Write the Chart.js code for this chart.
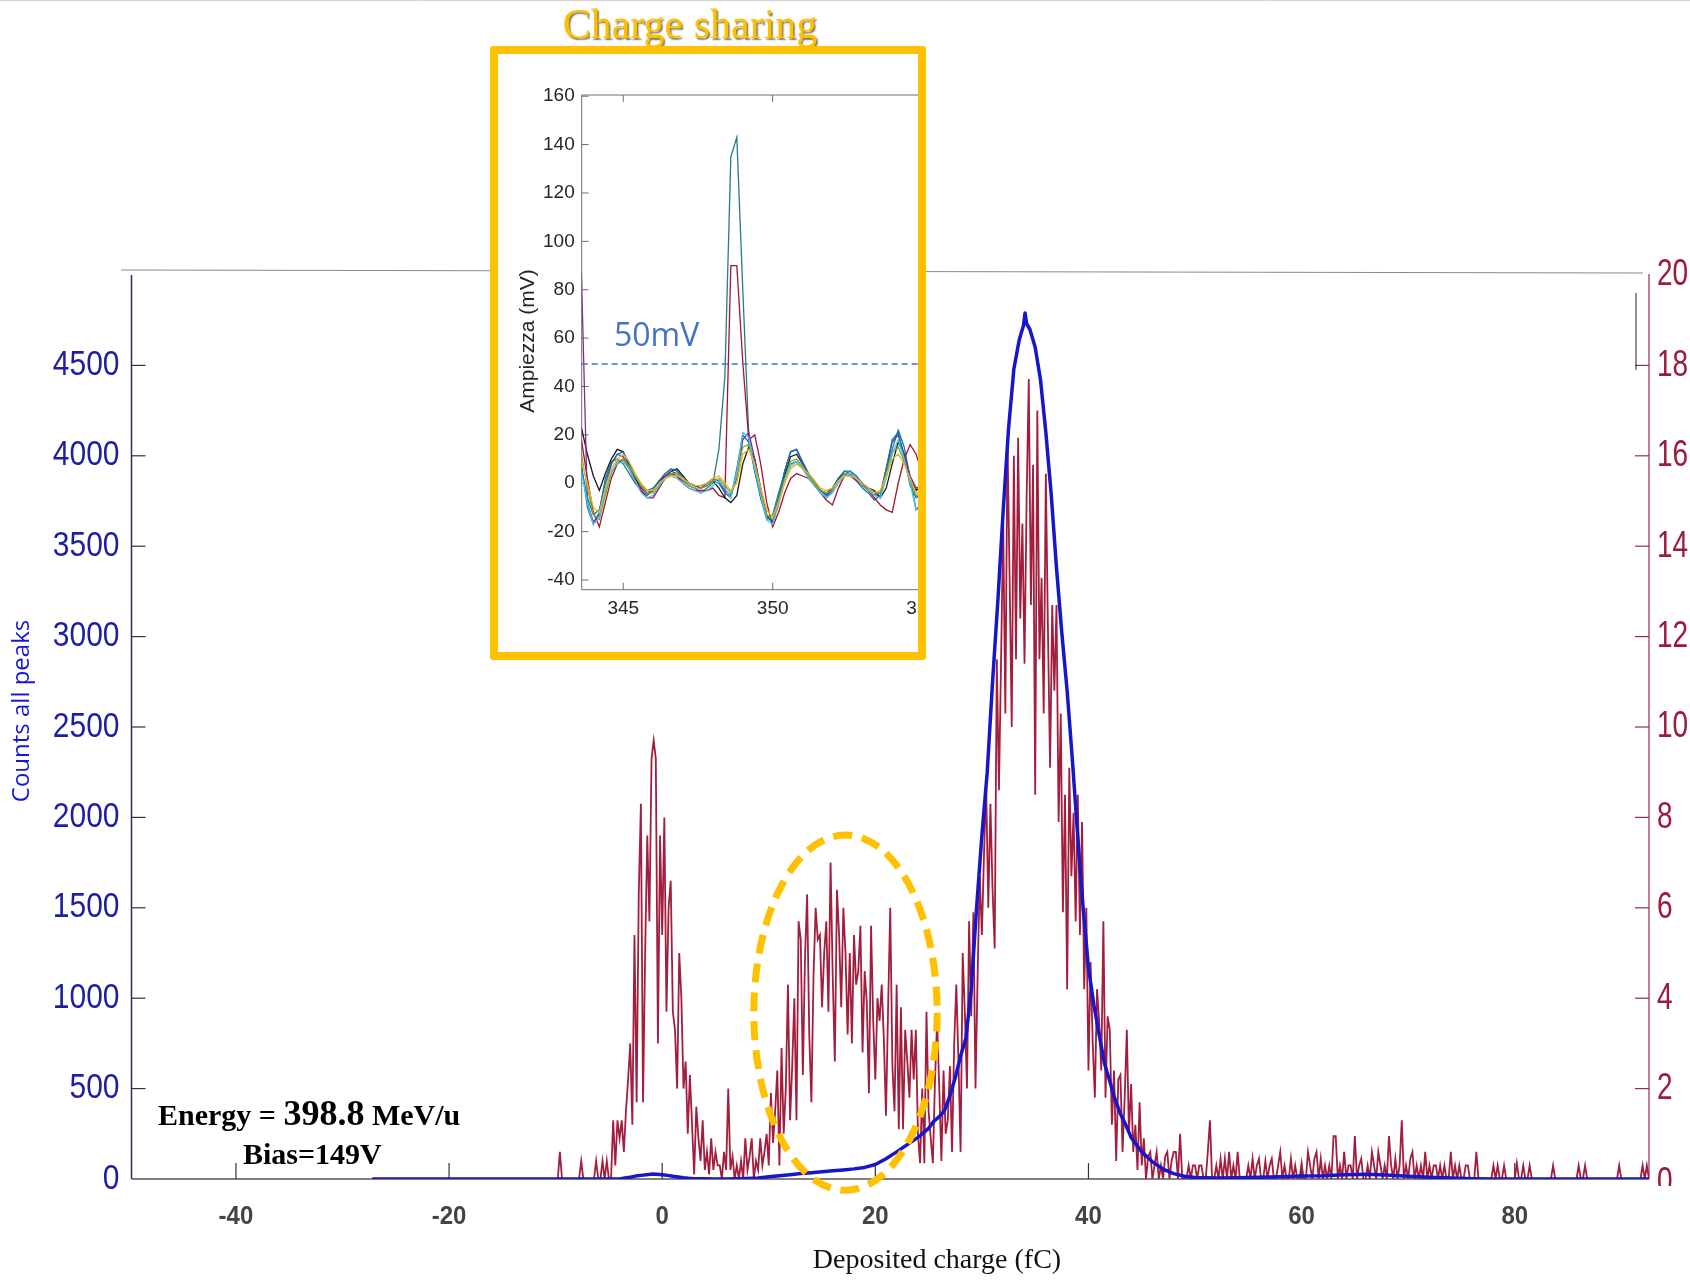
<!DOCTYPE html>
<html>
<head>
<meta charset="utf-8">
<script src="https://cdn.jsdelivr.net/npm/chart.js@4.4.0/dist/chart.umd.min.js"></script>
<style>
  html, body { margin: 0; padding: 0; background: #fff; }
  body { width: 1690px; height: 1283px; position: relative; overflow: hidden; }
  #main { position: absolute; left: 0; top: 0; }
  #insetWrap { position: absolute; left: 498px; top: 54px; width: 420px; height: 598px; overflow: hidden; background: #fff; }
  #inset { position: absolute; left: 0; top: 0; }
  #insetFrame { position: absolute; left: 490px; top: 46px; width: 436px; height: 614px; box-sizing: border-box; border: 8px solid #ffc000; border-radius: 3px; }
</style>
</head>
<body>
<canvas id="main" width="1690" height="1283"></canvas>
<div id="insetWrap"><canvas id="inset" width="470" height="598"></canvas></div>
<div id="insetFrame"></div>
<script>
// ---- main spectrum: all peaks (left axis, blue) ----
const allPeaksCharge = [
  -27.2, -4, -3.5, -3, -2.5, -2, -1.5, -1, -0.5, 0,
  0.5, 1, 1.5, 2, 2.5, 3, 4, 5, 6, 7,
  8, 9, 10, 11, 12, 13, 14, 15, 16, 17,
  18, 19, 20, 21, 22, 23, 24, 25, 25.5, 26,
  26.5, 27, 27.5, 28, 28.5, 29, 29.5, 30, 30.5, 31,
  31.5, 32, 32.5, 33, 33.5, 33.9, 34.05, 34.2, 34.5, 35,
  35.5, 36, 36.5, 37, 37.5, 38, 38.5, 39, 39.5, 40,
  40.5, 41, 41.5, 42, 42.5, 43, 43.5, 44, 45, 46,
  47, 48, 49, 50, 52, 54, 56, 58, 60, 62,
  64, 66, 68, 70, 72, 74, 76, 78, 85, 92.6
];
const allPeaksCounts = [
  0, 0, 5, 10, 16, 20, 24, 27, 26, 24,
  20, 15, 11, 7, 4, 2, 1, 0, 0, 1,
  3, 6, 12, 18, 24, 30, 35, 40, 45, 50,
  56, 64, 80, 112, 150, 190, 230, 280, 320, 345,
  380, 460, 560, 680, 780, 1050, 1500, 1900, 2250, 2750,
  3200, 3700, 4150, 4480, 4640, 4720, 4790, 4730, 4700, 4600,
  4420, 4130, 3790, 3380, 3020, 2700, 2310, 1890, 1500, 1170,
  965, 800, 640, 540, 440, 360, 300, 230, 150, 95,
  55, 30, 15, 8, 6, 7, 10, 13, 16, 18,
  24, 26, 22, 15, 10, 5, 2, 0, 0, 0
];

// ---- charge sharing histogram (right axis, red), bins of 0.2 fC from -10 fC ----
const sharingBinStart = -10;
const sharingBinWidth = 0.2;
const sharingCounts = [
  0, 0, 0.6, 0, 0, 0, 0, 0, 0, 0,            // -10
  0, 0, 0.4, 0, 0, 0, 0, 0, 0, 0.4,          // -8
  0, 0, 0.4, 0, 0.4, 0, 0, 1.3, 0.3, 1.3,    // -6
  0.9, 1.3, 0.6, 1.5, 2.2, 3.0, 1.2, 5.4, 1.7, 6.3, // -4
  8.3, 1.7, 5.0, 7.6, 5.7, 9.3, 9.7, 9.3, 3.0, 7.6, // -2
  5.4, 8.0, 3.7, 6.0, 6.6, 3.7, 3.3, 2.0, 5.0, 4.0, // 0
  2.0, 2.6, 1.0, 2.3, 1.2, 0.1, 1.6, 0.9, 0.4, 1.3, // 2
  0.2, 0.6, 0.1, 0.9, 0.2, 0.6, 0.3, 0.3, 0, 0.6,   // 4
  0.2, 2.0, 0.2, 0.5, 0, 0.3, 0, 0.4, 0, 0.9,       // 6
  0.2, 0.5, 0.9, 0, 0.4, 0.2, 0.9, 0.3, 0.6, 1.0,   // 8
  0.3, 1.9, 0.8, 1.5, 2.4, 0.3, 2.9, 1.0, 2.0, 4.3, // 10
  1.3, 2.5, 4.0, 1.3, 5.7, 5.3, 2.3, 4.9, 6.3, 3.2, // 12
  1.7, 4.5, 6.0, 5.3, 5.4, 3.8, 5.0, 5.7, 3.7, 7.0, // 14
  4.5, 2.6, 6.4, 5.4, 3.8, 6.0, 5.0, 3.2, 5.0, 3.0, // 16
  5.4, 4.3, 4.6, 5.6, 2.8, 4.6, 3.9, 1.9, 5.6, 3.5, // 18
  2.2, 4.0, 3.5, 4.3, 3.1, 1.4, 3.8, 6.0, 2.5, 1.5, // 20
  4.3, 1.1, 3.8, 1.1, 3.3, 2.6, 1.8, 3.3, 2.2, 3.3, // 22
  1.0, 0.35, 2.0, 0.35, 3.7, 1.5, 0.9, 0.35, 2.2, 3.5, // 24
  2.0, 0.4, 2.4, 1.0, 1.3, 2.5, 0.6, 3.0, 4.3, 2.6, // 26
  0.6, 5.0, 3.7, 2.0, 5.7, 3.6, 5.9, 2.0, 4.5, 6.7, // 28
  5.4, 7.2, 8.7, 6.0, 8.3, 6.4, 5.1, 11.5, 8.6, 11.5, // 30
  14.5, 10.3, 16.4, 13.3, 10.0, 16.0, 11.5, 16.4, 12.4, 14.5, // 32
  11.4, 15.1, 17.7, 12.7, 15.8, 8.5, 17.0, 11.5, 13.3, 10.3,  // 34
  15.6, 12.1, 9.1, 12.7, 10.8, 12.7, 7.9, 10.3, 5.9, 8.5,     // 36
  4.2, 9.1, 6.7, 8.1, 5.7, 8.5, 5.4, 7.9, 4.2, 6.0,           // 38
  2.4, 4.8, 3.0, 1.8, 4.2, 3.5, 2.4, 5.7, 1.8, 3.6,           // 40
  3.3, 1.2, 2.4, 0.4, 2.2, 2.3, 0.6, 1.8, 3.3, 1.0,           // 42
  2.1, 0.6, 1.2, 0.2, 1.7, 0.3, 0.9, 0, 0.5, 0.6,             // 44
  0, 0.3, 0.6, 0, 0.3, 0, 0.5, 0.6, 0, 0.4,                   // 46
  0.6, 0.6, 0, 1.0, 0, 0, 0, 0.3, 0, 0.3,                     // 48
  0.3, 0, 0.3, 0.3, 0, 0, 0.6, 1.3, 0, 0,                     // 50
  0.3, 0, 0.45, 0, 0.45, 0, 0.6, 0, 0.3, 0,                   // 52
  0.6, 0, 0, 0, 0, 0.3, 0, 0.45, 0, 0.3,                      // 54
  0.45, 0, 0, 0.4, 0, 0.3, 0.45, 0, 0, 0.3,                   // 56
  0.6, 0, 0.3, 0, 0, 0.45, 0, 0.3, 0, 0,                      // 58
  0.35, 0, 0, 0.6, 0.3, 0, 0.45, 0.6, 0, 0.45,                // 60
  0, 0.3, 0, 0.3, 0, 0.95, 0.95, 0, 0.3, 0,                   // 62
  0.6, 0, 0.3, 0.3, 0, 0.95, 0, 0.3, 0.45, 0,                 // 64
  0, 0.3, 0, 0.6, 0.3, 0, 0.6, 0.3, 0, 0.3,                   // 66
  0, 0.95, 0.3, 0, 0.45, 0, 0.3, 1.3, 0, 0.3,                 // 68
  0, 0.45, 0.6, 0, 0.3, 0, 0.3, 0, 0.6, 0,                    // 70
  0.3, 0, 0.3, 0.3, 0, 0.3, 0, 0.3, 0, 0,                     // 72
  0.6, 0, 0.3, 0, 0.3, 0, 0, 0.3, 0.3, 0,                     // 74
  0, 0, 0.6, 0, 0, 0, 0, 0, 0, 0,                             // 76
  0.3, 0, 0.3, 0, 0, 0.3, 0, 0, 0, 0,                         // 78
  0, 0.35, 0, 0, 0.3, 0, 0, 0.3, 0, 0,                        // 80
  0, 0, 0, 0, 0, 0, 0, 0, 0.3, 0,                             // 82
  0, 0, 0, 0, 0, 0, 0, 0, 0, 0,                               // 84
  0.3, 0, 0, 0.3, 0, 0, 0, 0, 0, 0,                           // 86
  0, 0, 0, 0, 0, 0, 0, 0, 0, 0.3,                             // 88
  0, 0, 0, 0, 0, 0, 0, 0, 0, 0,                               // 90
  0.3, 0, 0.3, 0                                              // 92
];

// ---- inset: waveforms (mV) vs time ----
const insetTime = [
  343.6, 343.8, 344.0, 344.2, 344.4, 344.6, 344.8, 345.0, 345.2, 345.4,
  345.6, 345.8, 346.0, 346.2, 346.4, 346.6, 346.8, 347.0, 347.2, 347.4,
  347.6, 347.8, 348.0, 348.2, 348.4, 348.6, 348.8, 349.0, 349.2, 349.4,
  349.6, 349.8, 350.0, 350.2, 350.4, 350.6, 350.8, 351.0, 351.2, 351.4,
  351.6, 351.8, 352.0, 352.2, 352.4, 352.6, 352.8, 353.0, 353.2, 353.4,
  353.6, 353.8, 354.0, 354.2, 354.4, 354.6, 354.8, 355.0, 355.2
];
const waveBlack = [
  23, 12, 3, -3, 4, 10, 14, 13, 7, 2,
  -2, -4, -3, 1, 3, 5, 6, 3, 0, -1,
  -2, -1, 1, -2, -6, -8, -5, 8, 15, 10,
  -2, -13, -16, -8, 3, 11, 12, 8, 4, 0,
  -3, -4, -2, 2, 4, 4, 2, -1, -2, -3,
  -6, -2, 8, 17, 12, 2, -3, -1, 0
];
const waveTeal = [
  8, -10, -17, -12, 2, 9, 10, 8, 4, 0,
  -3, -5, -3, 1, 3, 4, 3, 1, -1, -2,
  -4, -2, 0, 14, 44, 135, 143, 80, 20, 5,
  -6, -15, -13, -4, 4, 8, 9, 6, 3, 0,
  -4, -6, -3, 2, 5, 4, 1, -2, -4, -7,
  -5, 5, 14, 22, 15, 2, -11, -8, -4
];
const waveRed = [
  18, 2, -12, -18, -8, 2, 8, 10, 6, 1,
  -3, -6, -6, -2, 2, 4, 3, 0, -2, -3,
  -3, -3, -2, -5, -6, 90, 90, 50, 18, 20,
  8, -8, -18, -12, -4, 2, 4, 3, 2, -1,
  -4, -7, -9, -2, 3, 4, 2, 0, -3, -6,
  -9, -11, -12, 0, 10, 16, 12, 4, 0
];
const wavePurple = [
  87, -8, -16, -13, -3, 8, 12, 11, 6, 1,
  -2, -4, -3, 0, 3, 5, 4, 2, 0, -1,
  -2, 0, 2, 1, -3, -5, 2, 18, 21, 10,
  -3, -14, -15, -6, 5, 13, 14, 8, 4, 1,
  -3, -5, -3, 2, 4, 3, 1, -1, -3, -5,
  -4, 6, 17, 20, 12, 3, -2, -1, 0
];
const waveYellow = [
  10, 0, -10, -12, -2, 6, 10, 12, 9, 4,
  0, -3, -3, 0, 2, 3, 3, 2, 0, -1,
  -1, 0, 2, 3, 0, -3, 0, 12, 14, 8,
  -2, -11, -14, -8, 0, 6, 8, 6, 4, 1,
  -2, -3, -2, 1, 3, 3, 2, 0, -2, -4,
  -3, 3, 10, 12, 8, 2, -4, -3, -1
];
const waveCyan = [
  5, -8, -17, -14, -3, 5, 8, 9, 6, 1,
  -4, -6, -5, -1, 2, 3, 2, 0, -2, -3,
  -4, -3, -1, 1, -2, -6, 5, 21, 19, 6,
  -5, -15, -17, -9, 1, 7, 9, 6, 2, -1,
  -4, -6, -4, 0, 3, 4, 2, -1, -3, -5,
  -6, 2, 12, 18, 10, 0, -11, -10, -5
];
const waveGreen = [
  12, -2, -13, -15, -5, 4, 9, 10, 7, 3,
  -1, -4, -4, -1, 2, 4, 4, 2, -1, -2,
  -2, -1, 1, 2, -1, -4, 3, 15, 16, 7,
  -4, -13, -15, -7, 2, 9, 10, 7, 3, 0,
  -3, -4, -3, 1, 4, 4, 2, 0, -2, -4,
  -4, 4, 13, 15, 9, 1, -5, -4, -2
];
const waveBlue = [
  6, -6, -13, -11, 0, 8, 12, 13, 8, 3,
  -1, -3, -2, 1, 4, 6, 5, 2, 0, -1,
  -1, 0, 1, 0, -4, -6, 6, 20, 17, 5,
  -6, -14, -16, -6, 5, 13, 14, 9, 4, 0,
  -3, -5, -2, 2, 5, 5, 3, 0, -2, -4,
  -6, 6, 18, 21, 11, -1, -6, -4, -2
];
const thresholdMv = 49.3;

const SANS = '"Liberation Sans", Arial, sans-serif';
const SERIF = '"Liberation Serif", "Times New Roman", serif';

const line = (ctx, x1, y1, x2, y2) => {
  ctx.beginPath();
  ctx.moveTo(x1, y1);
  ctx.lineTo(x2, y2);
  ctx.stroke();
};

// text squeezed/stretched like the (resized) original figure
const stretchedText = (ctx, text, x, y, sy, align) => {
  ctx.save();
  ctx.translate(x, y);
  ctx.scale(1, sy);
  ctx.textAlign = align;
  ctx.textBaseline = 'middle';
  ctx.fillText(text, 0, 0);
  ctx.restore();
};

const mainDecor = {
  id: 'mainDecor',
  beforeDatasetsDraw(chart) {
    const { ctx, chartArea: a, scales: { x, y, y2 } } = chart;
    ctx.save();
    ctx.strokeStyle = '#d4d4d4';
    ctx.lineWidth = 1;
    line(ctx, 0, 0.5, 1690, 0.5);

    ctx.strokeStyle = '#8a8a8a';
    ctx.lineWidth = 1.2;
    line(ctx, 121, 270, a.right - 6, 273);

    ctx.strokeStyle = '#808080';
    ctx.lineWidth = 2;
    line(ctx, a.left, a.bottom, a.right, a.bottom);

    ctx.strokeStyle = '#2c2c5e';
    ctx.lineWidth = 1.5;
    line(ctx, a.left, a.top, a.left, a.bottom);

    ctx.strokeStyle = '#9a2a4a';
    ctx.lineWidth = 1.2;
    line(ctx, a.right, a.top - 1, a.right, a.bottom);

    ctx.strokeStyle = '#333';
    ctx.lineWidth = 1.2;
    x.ticks.forEach(t => {
      const px = x.getPixelForValue(t.value);
      line(ctx, px, a.bottom, px, a.bottom - 16);
    });
    y.ticks.forEach(t => {
      if (t.value <= 0 || t.value > 4500) return;
      const py = y.getPixelForValue(t.value);
      line(ctx, a.left, py, a.left + 14, py);
    });
    ctx.strokeStyle = '#9a2a4a';
    y2.ticks.forEach(t => {
      if (t.value <= 0 || t.value >= 20) return;
      const py = y2.getPixelForValue(t.value);
      line(ctx, a.right, py, a.right - 14, py);
    });
    ctx.strokeStyle = '#222';
    ctx.lineWidth = 1;
    line(ctx, a.right - 13, y2.getPixelForValue(19.6), a.right - 13, y2.getPixelForValue(17.9));
    ctx.restore();
  },
  afterDraw(chart) {
    const { ctx, chartArea: a, scales: { x, y, y2 } } = chart;
    ctx.save();

    // tick labels
    ctx.fillStyle = '#1e1ea2';
    ctx.font = '30px ' + SANS;
    y.ticks.forEach(t => {
      if (t.value > 4500) return;
      stretchedText(ctx, String(t.value), a.left - 12, y.getPixelForValue(t.value), 1.16, 'right');
    });
    ctx.fillStyle = '#9a1c3c';
    ctx.font = '28px ' + SANS;
    y2.ticks.forEach(t => {
      const py = y2.getPixelForValue(t.value);
      if (t.value === 0) {
        ctx.save();
        ctx.beginPath();
        ctx.rect(a.right, py - 30, 60, 37);
        ctx.clip();
        stretchedText(ctx, '0', a.right + 8, py + 4, 1.35, 'left');
        ctx.restore();
      } else {
        stretchedText(ctx, String(t.value), a.right + 8, py, 1.35, 'left');
      }
    });
    ctx.fillStyle = '#444';
    ctx.font = 'bold 24px ' + SANS;
    x.ticks.forEach(t => {
      stretchedText(ctx, String(t.value), x.getPixelForValue(t.value), 1217, 1.05, 'center');
    });

    // axis titles
    ctx.save();
    ctx.translate(22, 711);
    ctx.rotate(-Math.PI / 2);
    ctx.fillStyle = '#1515e0';
    ctx.font = '24px "Open Sans", ' + SANS;
    ctx.textAlign = 'center';
    ctx.textBaseline = 'middle';
    ctx.fillText('Counts all peaks', 0, 0);
    ctx.restore();

    ctx.fillStyle = '#111';
    ctx.font = '28px ' + SERIF;
    ctx.textAlign = 'center';
    ctx.textBaseline = 'middle';
    ctx.fillText('Deposited charge (fC)', 937, 1261);

    // run info
    ctx.textAlign = 'left';
    ctx.textBaseline = 'alphabetic';
    ctx.fillStyle = '#000';
    let cx = 158;
    ctx.font = 'bold 30px ' + SERIF;
    ctx.fillText('Energy = ', cx, 1125);
    cx += ctx.measureText('Energy = ').width;
    ctx.font = 'bold 36px ' + SERIF;
    ctx.fillText('398.8', cx, 1125);
    cx += ctx.measureText('398.8').width;
    ctx.font = 'bold 30px ' + SERIF;
    ctx.fillText(' MeV/u', cx, 1125);
    ctx.fillText('Bias=149V', 243, 1164);

    // inset title
    ctx.save();
    ctx.font = '42px ' + SERIF;
    ctx.textAlign = 'center';
    ctx.fillStyle = '#ffc000';
    ctx.shadowColor = 'rgba(70, 50, 0, 0.65)';
    ctx.shadowOffsetX = 1.5;
    ctx.shadowOffsetY = 1.5;
    ctx.shadowBlur = 1.5;
    ctx.fillText('Charge sharing', 690, 38);
    ctx.restore();

    // dashed ellipse around the charge sharing bump
    const ex = x.getPixelForValue(17.2);
    const ey = y2.getPixelForValue(3.68);
    const rx = x.getPixelForValue(17.2 + 8.6) - ex;
    const ry = ey - y2.getPixelForValue(3.68 + 3.93);
    ctx.strokeStyle = '#ffc000';
    ctx.lineWidth = 7;
    ctx.setLineDash([19, 10]);
    ctx.beginPath();
    ctx.ellipse(ex, ey, rx, ry, 0, 0, Math.PI * 2);
    ctx.stroke();
    ctx.restore();
  }
};

new Chart(document.getElementById('main').getContext('2d'), {
  type: 'line',
  data: {
    datasets: [
      {
        label: 'Counts all peaks',
        data: allPeaksCharge.map((q, i) => ({ x: q, y: allPeaksCounts[i] })),
        yAxisID: 'y',
        borderColor: '#1616cc',
        borderWidth: 3.5,
        pointRadius: 0,
        borderJoinStyle: 'round'
      },
      {
        label: 'Charge sharing',
        data: sharingCounts.map((v, i) => ({ x: sharingBinStart + i * sharingBinWidth, y: v })),
        yAxisID: 'y2',
        borderColor: '#a31d3d',
        borderWidth: 1.8,
        pointRadius: 0
      }
    ]
  },
  options: {
    responsive: false,
    animation: false,
    layout: { padding: { top: 275, left: 0, right: 0, bottom: 0 } },
    plugins: { legend: { display: false }, tooltip: { enabled: false } },
    scales: {
      x: {
        type: 'linear', min: -49.8, max: 92.6,
        afterFit: s => { s.height = 104; },
        grid: { display: false, drawTicks: false },
        border: { display: false },
        ticks: { display: false, stepSize: 20, includeBounds: false }
      },
      y: {
        position: 'left', min: 0, max: 5000,
        afterFit: s => { s.width = 131.5; },
        grid: { display: false, drawTicks: false },
        border: { display: false },
        ticks: { display: false, stepSize: 500 }
      },
      y2: {
        position: 'right', min: 0, max: 20,
        afterFit: s => { s.width = 41; },
        grid: { display: false, drawTicks: false },
        border: { display: false },
        ticks: { display: false, stepSize: 2 }
      }
    }
  },
  plugins: [mainDecor]
});

// ---- inset chart ----
const insetDecor = {
  id: 'insetDecor',
  beforeDatasetsDraw(chart) {
    const { ctx, chartArea: a, scales: { x, y } } = chart;
    ctx.save();
    ctx.strokeStyle = '#6e6e6e';
    ctx.lineWidth = 1;
    line(ctx, a.left, a.top, a.left, a.bottom);
    line(ctx, a.left, a.bottom, a.right, a.bottom);
    line(ctx, a.left, a.top, a.right, a.top);
    x.ticks.forEach(t => {
      const px = x.getPixelForValue(t.value);
      line(ctx, px, a.bottom, px, a.bottom - 7);
      line(ctx, px, a.top, px, a.top + 7);
    });
    y.ticks.forEach(t => {
      const py = y.getPixelForValue(t.value);
      line(ctx, a.left, py, a.left + 7, py);
    });
    ctx.restore();
  },
  afterDatasetsDraw(chart) {
    const { ctx, chartArea: a, scales: { y } } = chart;
    ctx.save();
    const py = y.getPixelForValue(thresholdMv);
    ctx.strokeStyle = '#4472c4';
    ctx.lineWidth = 1.5;
    ctx.setLineDash([6, 4]);
    line(ctx, a.left, py, a.right, py);
    ctx.setLineDash([]);
    ctx.fillStyle = '#4472c4';
    ctx.font = '32px "Open Sans", ' + SANS;
    ctx.textAlign = 'left';
    ctx.textBaseline = 'alphabetic';
    ctx.fillText('50mV', 116, 292);

    ctx.translate(30, 287);
    ctx.rotate(-Math.PI / 2);
    ctx.fillStyle = '#262626';
    ctx.font = '21px ' + SANS;
    ctx.textAlign = 'center';
    ctx.textBaseline = 'middle';
    ctx.fillText('Ampiezza (mV)', 0, 0);
    ctx.restore();
  }
};

const insetSeries = [
  [waveYellow, '#edb120'],
  [waveCyan, '#4dbeee'],
  [waveGreen, '#77ac30'],
  [waveBlue, '#0072bd'],
  [wavePurple, '#7e2f8e'],
  [waveBlack, '#1a1a1a'],
  [waveRed, '#a2142f'],
  [waveTeal, '#267b88']
];

new Chart(document.getElementById('inset').getContext('2d'), {
  type: 'line',
  data: {
    datasets: insetSeries.map(([vals, color]) => ({
      data: vals.map((v, i) => ({ x: insetTime[i], y: v })),
      borderColor: color,
      borderWidth: 1.3,
      pointRadius: 0
    }))
  },
  options: {
    responsive: false,
    animation: false,
    layout: { padding: { top: 41, left: 0, right: 16, bottom: 0 } },
    plugins: { legend: { display: false }, tooltip: { enabled: false } },
    scales: {
      x: {
        type: 'linear', min: 343.61, max: 356,
        afterFit: s => { s.height = 62.3; },
        grid: { display: false, drawTicks: false },
        border: { display: false },
        ticks: { stepSize: 5, includeBounds: false, maxRotation: 0, autoSkip: false, padding: 8, color: '#262626', font: { family: SANS, size: 19 } }
      },
      y: {
        min: -44, max: 160.5,
        afterFit: s => { s.width = 83.7; },
        grid: { display: false, drawTicks: false },
        border: { display: false },
        ticks: { stepSize: 20, includeBounds: false, padding: 7, color: '#262626', font: { family: SANS, size: 19 } }
      }
    }
  },
  plugins: [insetDecor]
});
</script>
</body>
</html>
